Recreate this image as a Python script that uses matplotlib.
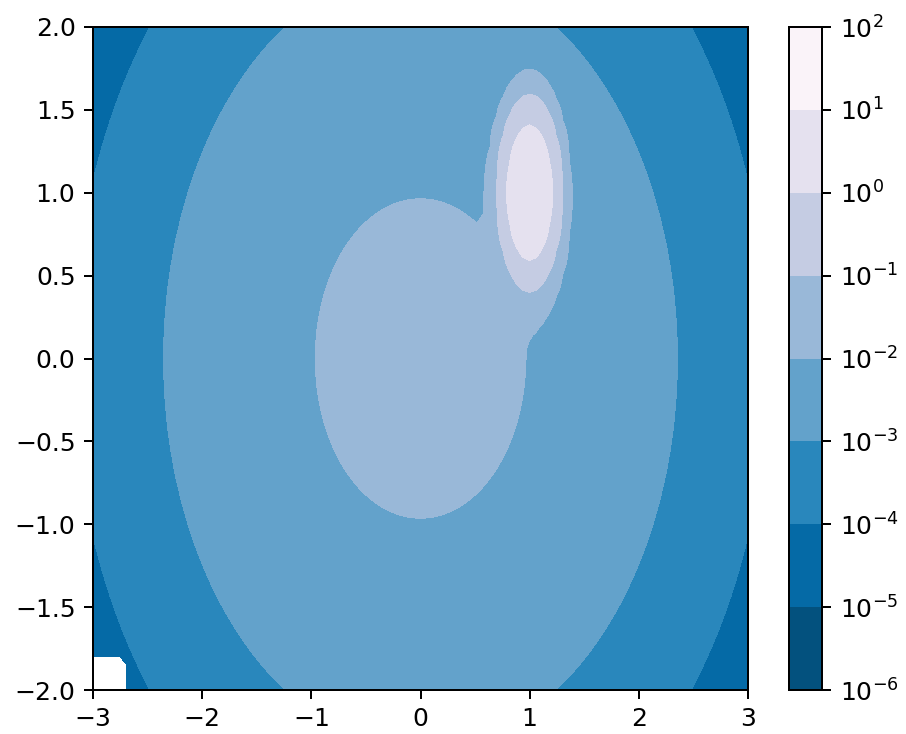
import numpy as np
import numpy.ma as ma
import matplotlib
matplotlib.use("Agg")
import matplotlib.pyplot as plt
from matplotlib import cm, colors

# Grid extent and resolution
n_points = 100
x_range = [-3.0, 3.0]
y_range = [-2.0, 2.0]

# Spike (narrow gaussian) parameters: sigma_x, sigma_y, mu_x, mu_y, weight
spike = [0.1, 0.2, 1.0, 1.0, 1.0]
# Hump (broad gaussian) parameters
hump = [1.0, 1.0, 0.0, 0.0, 0.1]
# masked corner block size (grid cells)
mask_cells = 5
# contour level exponents
level_exponents = [-6, -5, -4, -3, -2, -1, 0, 1, 2]


def bivariate_normal(X, Y, sx, sy, mx, my):
    Xm = X - mx
    Ym = Y - my
    z = Xm**2 / sx**2 + Ym**2 / sy**2
    return np.exp(-z / 2) / (2 * np.pi * sx * sy)


x = np.linspace(x_range[0], x_range[1], n_points)
y = np.linspace(y_range[0], y_range[1], n_points)
X, Y = np.meshgrid(x, y)
z = (spike[4] * bivariate_normal(X, Y, *spike[:4])
     + hump[4] * bivariate_normal(X, Y, *hump[:4]))
z[:mask_cells, :mask_cells] = -1
z = ma.masked_where(z <= 0, z)

levels = [10.0 ** e for e in level_exponents]

# band colours: PuBu_r sampled at the (arithmetic) midpoint of each decade
nb = len(levels) - 1
band_pos = [(i + np.log10(5.5)) / nb for i in range(nb)]
band_cmap = colors.ListedColormap([cm.PuBu_r(p) for p in band_pos])

DPI = 180
plt.rcParams['font.size'] = 10
fig = plt.figure(figsize=(906 / DPI, 734 / DPI), dpi=DPI)
W, H = 906, 734
ax = fig.add_axes([93 / W, 1 - 690 / H, (748 - 93) / W, (690 - 27) / H])
cax = fig.add_axes([789 / W, 1 - 690 / H, (822 - 789) / W, (690 - 27) / H])

norm = colors.LogNorm(vmin=levels[0], vmax=levels[-1])
cs = ax.contourf(X, Y, z, levels=levels, norm=norm, cmap=band_cmap)
cbar = fig.colorbar(cs, cax=cax)
cax.minorticks_off()

fig.savefig("out.png", dpi=DPI)
